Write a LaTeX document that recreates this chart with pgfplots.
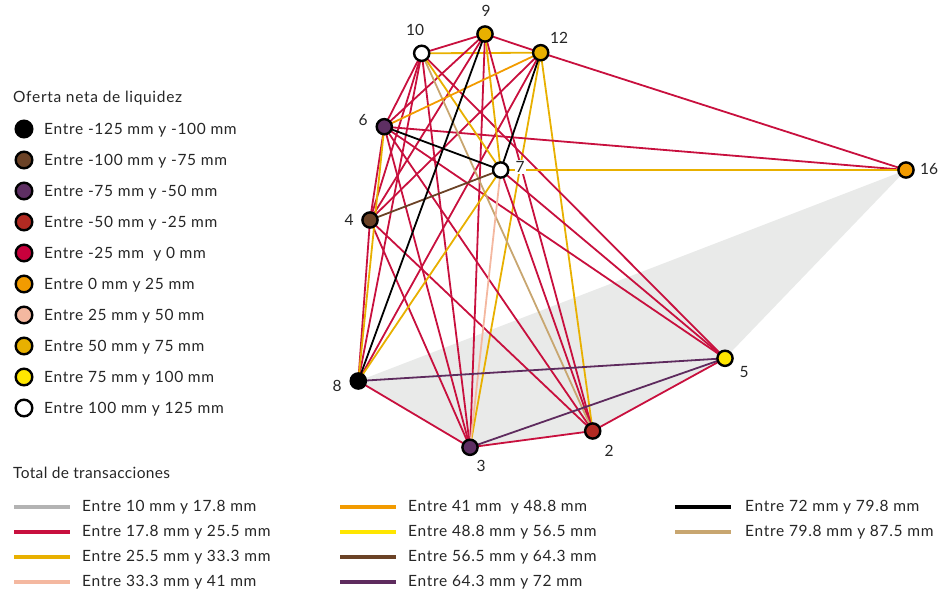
\documentclass[border=0pt]{standalone}
\usepackage{pgfplots}
\pgfplotsset{compat=1.18}
\usepackage{fontspec}
\setmainfont{Lato}
\newfontfamily\legA[LetterSpace=4.5]{Lato}
\newfontfamily\legB[LetterSpace=2.3]{Lato}
\definecolor{cred}{HTML}{C8103E}
\definecolor{cgold}{HTML}{E8B000}
\definecolor{corange}{HTML}{F29B00}
\definecolor{cpink}{HTML}{F4B8A0}
\definecolor{cbrown}{HTML}{6B4226}
\definecolor{cpurple}{HTML}{5E2B5E}
\definecolor{ctan}{HTML}{C8A670}
\definecolor{cyellow}{HTML}{FFE600}
\definecolor{cgray}{HTML}{B3B3B3}
\definecolor{ndark}{HTML}{B22A22}
\definecolor{ncrim}{HTML}{C8003C}
\definecolor{npurple}{HTML}{5E2F63}
\definecolor{cfill}{HTML}{E9EAE9}
\begin{document}
\begin{tikzpicture}
\begin{axis}[width=949pt,height=591pt,scale only axis,xmin=0,xmax=949,ymin=0,ymax=591,
  y dir=reverse,axis lines=none,ticks=none,clip=false,
  every axis plot/.append style={line width=1.8pt}]
% shaded area
\addplot[fill=cfill,draw=none] coordinates {(358.3,381) (906,170) (725,358.3) (592.7,431) (470,447.3)} -- cycle;
% edges
\addplot[cred] coordinates {(421.7,53.3) (485,34)};
\addplot[cred] coordinates {(485,34) (540.7,52.7)};
\addplot[cgold] coordinates {(421.7,53.3) (540.7,52.7)};
\addplot[cred] coordinates {(540.7,52.7) (906,170)};
\addplot[cred] coordinates {(540.7,52.7) (370,220)};
\addplot[cgold] coordinates {(540.7,52.7) (470,447.3)};
\addplot[cgold] coordinates {(540.7,52.7) (592.7,431)};
\addplot[cred] coordinates {(540.7,52.7) (358.3,381)};
\addplot[cred] coordinates {(485,34) (384.3,126.7)};
\addplot[cred] coordinates {(485,34) (370,220)};
\addplot[cred] coordinates {(485,34) (470,447.3)};
\addplot[cred] coordinates {(485,34) (592.7,431)};
\addplot[cred] coordinates {(421.7,53.3) (384.3,126.7)};
\addplot[cred] coordinates {(421.7,53.3) (370,220)};
\addplot[cred] coordinates {(421.7,53.3) (358.3,381)};
\addplot[cred] coordinates {(421.7,53.3) (470,447.3)};
\addplot[cred] coordinates {(421.7,53.3) (725,358.3)};
\addplot[cred] coordinates {(384.3,126.7) (906,170)};
\addplot[cred] coordinates {(384.3,126.7) (370,220)};
\addplot[cred] coordinates {(384.3,126.7) (470,447.3)};
\addplot[cred] coordinates {(384.3,126.7) (592.7,431)};
\addplot[cred] coordinates {(384.3,126.7) (725,358.3)};
\addplot[cred] coordinates {(500.7,170) (592.7,431)};
\addplot[cred] coordinates {(500.7,170) (725,358.3)};
\addplot[cred] coordinates {(370,220) (358.3,381)};
\addplot[cred] coordinates {(370,220) (470,447.3)};
\addplot[cred] coordinates {(370,220) (592.7,431)};
\addplot[cred] coordinates {(358.3,381) (470,447.3)};
\addplot[cred] coordinates {(470,447.3) (592.7,431)};
\addplot[cred] coordinates {(592.7,431) (725,358.3)};
\addplot[ctan] coordinates {(421.7,53.3) (592.7,431)};
\addplot[cgold] coordinates {(421.7,53.3) (500.7,170)};
\addplot[cgold] coordinates {(485,34) (500.7,170)};
\addplot[cgold] coordinates {(384.3,126.7) (358.3,381)};
\addplot[cgold] coordinates {(500.7,170) (906,170.01)};
\addplot[cgold] coordinates {(500.7,170) (358.3,381)};
\addplot[cpink] coordinates {(500.7,170) (470,447.3)};
\addplot[corange] coordinates {(540.7,52.7) (384.3,126.7)};
\addplot[cbrown] coordinates {(500.7,170) (370,220)};
\addplot[cpurple] coordinates {(358.3,381) (725,358.3)};
\addplot[cpurple] coordinates {(470,447.3) (725,358.3)};
\addplot[black] coordinates {(540.7,52.7) (500.7,170)};
\addplot[black] coordinates {(485,34) (358.3,381)};
\addplot[black] coordinates {(384.3,126.7) (500.7,170)};
% nodes
\pgfplotsset{nd/.style={only marks,mark=*,mark size=7.6pt,mark options={draw=black,line width=2.4pt,fill=#1}}}
\addplot[nd=white] coordinates {(421.7,53.3) (500.7,170)};
\addplot[nd=cgold] coordinates {(485,34) (540.7,52.7)};
\addplot[nd=npurple] coordinates {(384.3,126.7) (470,447.3)};
\addplot[nd=cbrown] coordinates {(370,220)};
\addplot[nd=corange] coordinates {(906,170)};
\addplot[nd=black] coordinates {(358.3,381)};
\addplot[nd=cyellow] coordinates {(725,358.3)};
\addplot[nd=ndark] coordinates {(592.7,431)};
% node labels
\tikzset{lb/.style={font=\fontsize{15.5}{17}\selectfont,text=black!85,inner sep=0pt}}
\node[lb] at (axis cs:415,30) {10};
\node[lb] at (axis cs:486,11) {9};
\node[lb] at (axis cs:559,38) {12};
\node[lb] at (axis cs:363,120) {6};
\node[lb,fill=white,inner sep=1pt] at (axis cs:520,167) {7};
\node[lb] at (axis cs:349,220) {4};
\node[lb] at (axis cs:929,169) {16};
\node[lb] at (axis cs:337,386) {8};
\node[lb] at (axis cs:744,372) {5};
\node[lb] at (axis cs:481,466) {3};
\node[lb] at (axis cs:609,451) {2};
% legend 1
\tikzset{lt/.style={font=\fontsize{15.5}{17}\selectfont,text=black!85,anchor=west,inner sep=0pt},
  la/.style={lt,font=\fontsize{15.5}{17}\legA}}
\node[la] at (axis cs:13,98) {Oferta neta de liquidez};
\pgfplotsset{lg/.style={only marks,mark=*,mark size=8.3pt,mark options={draw=black,line width=2.4pt,fill=#1}}}
\addplot[lg=black] coordinates {(24,129)};
\addplot[lg=cbrown] coordinates {(24,160)};
\addplot[lg=npurple] coordinates {(24,191)};
\addplot[lg=ndark] coordinates {(24,222)};
\addplot[lg=ncrim] coordinates {(24,253)};
\addplot[lg=corange] coordinates {(24,284)};
\addplot[lg=cpink] coordinates {(24,315)};
\addplot[lg=cgold] coordinates {(24,346)};
\addplot[lg=cyellow] coordinates {(24,377)};
\addplot[lg=white] coordinates {(24,408)};
\node[la] at (axis cs:44,130) {Entre -125 mm y -100 mm};
\node[la] at (axis cs:44,161) {Entre -100 mm y -75 mm};
\node[la] at (axis cs:44,192) {Entre -75 mm y -50 mm};
\node[la] at (axis cs:44,223) {Entre -50 mm y -25 mm};
\node[la] at (axis cs:44,254) {Entre -25 mm\ \ y 0 mm};
\node[la] at (axis cs:44,285) {Entre 0 mm y 25 mm};
\node[la] at (axis cs:44,316) {Entre 25 mm y 50 mm};
\node[la] at (axis cs:44,347) {Entre 50 mm y 75 mm};
\node[la] at (axis cs:44,378) {Entre 75 mm y 100 mm};
\node[la] at (axis cs:44,409) {Entre 100 mm y 125 mm};
% legend 2
\node[lt,font=\fontsize{15.5}{17}\legB] at (axis cs:13,473) {Total de transacciones};
\pgfplotsset{ll/.style={line width=3.5pt,#1}}
\addplot[ll=cgray] coordinates {(14,507) (70,507)};
\addplot[ll=cred] coordinates {(14,532) (70,532)};
\addplot[ll=cgold] coordinates {(14,557) (70,557)};
\addplot[ll=cpink] coordinates {(14,582) (70,582)};
\addplot[ll=corange] coordinates {(340,507) (396,507)};
\addplot[ll=cyellow] coordinates {(340,532) (396,532)};
\addplot[ll=cbrown] coordinates {(340,557) (396,557)};
\addplot[ll=cpurple] coordinates {(340,582) (396,582)};
\addplot[ll=black] coordinates {(675,507) (731,507)};
\addplot[ll=ctan] coordinates {(675,532) (731,532)};
\node[la] at (axis cs:82,507) {Entre 10 mm y 17.8 mm};
\node[la] at (axis cs:82,532) {Entre 17.8 mm y 25.5 mm};
\node[la] at (axis cs:82,557) {Entre 25.5 mm y 33.3 mm};
\node[la] at (axis cs:82,582) {Entre 33.3 mm y 41 mm};
\node[la] at (axis cs:408,507) {Entre 41 mm\ \ y 48.8 mm};
\node[la] at (axis cs:408,532) {Entre 48.8 mm y 56.5 mm};
\node[la] at (axis cs:408,557) {Entre 56.5 mm y 64.3 mm};
\node[la] at (axis cs:408,582) {Entre 64.3 mm y 72 mm};
\node[la] at (axis cs:745,507) {Entre 72 mm y 79.8 mm};
\node[la] at (axis cs:745,532) {Entre 79.8 mm y 87.5 mm};
\end{axis}
\pgfresetboundingbox
\path[use as bounding box] (current axis.south west) rectangle (current axis.north east);
\end{tikzpicture}
\end{document}
